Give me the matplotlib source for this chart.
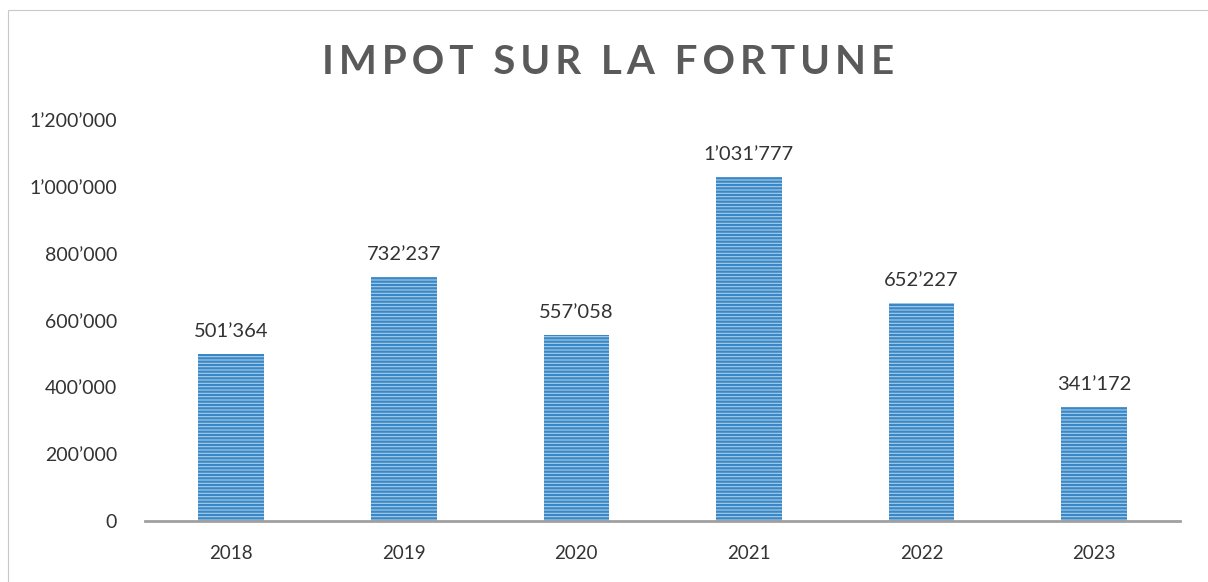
import matplotlib.pyplot as plt
from matplotlib.patches import Rectangle

# données
years = ['2018', '2019', '2020', '2021', '2022', '2023']
impot = [501364, 732237, 557058, 1031777, 652227, 341172]
yticks = [0, 200000, 400000, 600000, 800000, 1000000, 1200000]
title = 'IMPOT SUR LA FORTUNE'


def fmt(v):
    return f"{v:,}".replace(',', '\u2019')


plt.rcParams['font.family'] = ['Lato', 'DejaVu Sans']
plt.rcParams['hatch.linewidth'] = 1.6

fig = plt.figure(figsize=(12.08, 5.82), dpi=100)
ax = fig.add_axes([0.12, 0.105, 0.857, 0.688])

x = range(len(years))
# fond clair puis rayures horizontales
ax.bar(x, impot, width=0.38, color='#a6cfec', linewidth=0)
ax.bar(x, impot, width=0.38, facecolor='none', edgecolor='#3b86c4',
       linewidth=0, hatch='-----')

for i, v in zip(x, impot):
    ax.annotate(fmt(v), (i, v), xytext=(0, 10), textcoords='offset points',
                ha='center', va='bottom', fontsize=14.5, color='#333333')

ax.set_xlim(-0.5, len(years) - 0.5)
ax.set_ylim(0, 1200000)
ax.set_yticks(yticks)
ax.set_yticklabels([fmt(t) for t in yticks])
ax.set_xticks(list(x))
ax.set_xticklabels(years)
ax.tick_params(axis='y', length=0, pad=20, labelsize=14, labelcolor='#333333')
ax.tick_params(axis='x', length=0, pad=17, labelsize=13.5, labelcolor='#333333')

for s in ['top', 'right', 'left']:
    ax.spines[s].set_visible(False)
ax.spines['bottom'].set_color('#a0a0a0')
ax.spines['bottom'].set_linewidth(2)

# titre avec un léger espacement des lettres
spaced = '\u2009 \u2009'.join('\u2009'.join(w) for w in title.split(' '))
fig.text(0.503, 0.893, spaced, ha='center', va='center', fontsize=29,
         fontweight='bold', color='#5a5a5a')

# cadre du graphique
fig.add_artist(Rectangle((0.007, -0.01), 1.0, 0.992, transform=fig.transFigure,
                         fill=False, edgecolor='#c8c8c8', linewidth=0.8))

fig.savefig('out.png', dpi=100, facecolor='white')
